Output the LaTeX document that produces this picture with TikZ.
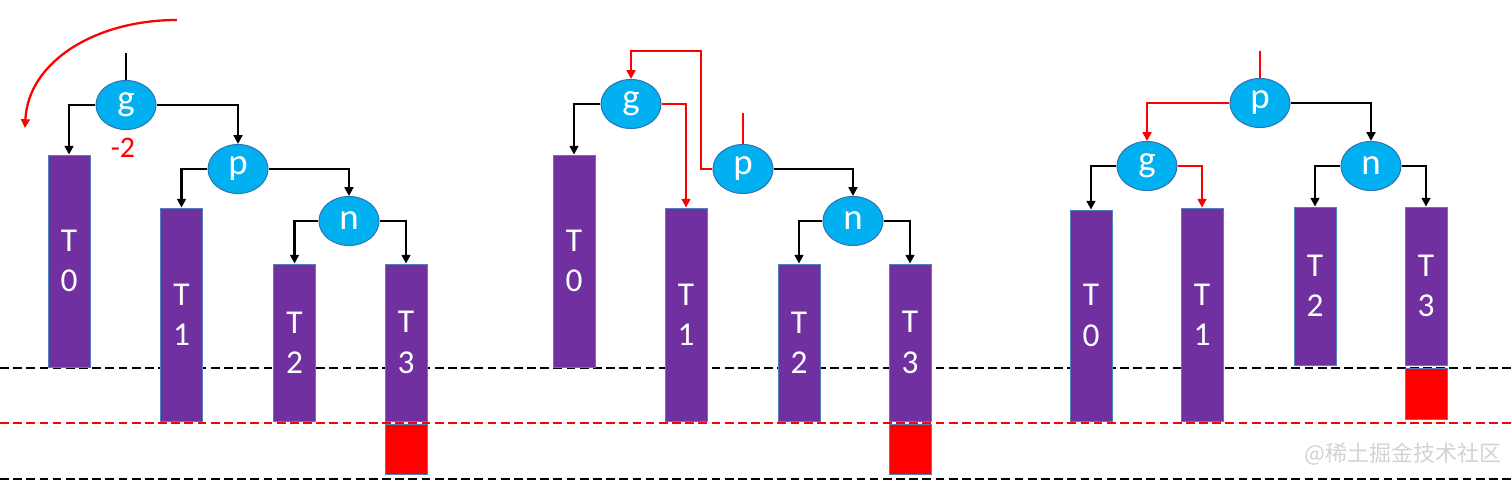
\documentclass[tikz,border=0pt]{standalone}
\usepackage{fontspec}
\setmainfont{Carlito}
\newfontfamily\cjkfont{Noto Sans CJK SC}
\usepackage{tikz}
\usetikzlibrary{arrows.meta,positioning,shapes.geometric}
\definecolor{treepurple}{HTML}{7030A0}
\definecolor{barline}{HTML}{4F81BD}
\definecolor{nodeblue}{HTML}{00B0F0}
\definecolor{nodeline}{HTML}{2E75B6}
\definecolor{hot}{HTML}{FF0000}
\definecolor{wmgray}{HTML}{D2D2D2}

\begin{document}
\begin{tikzpicture}[x=0.02cm,y=-0.02cm,
  tnode/.style={ellipse,draw=nodeline,line width=0.6pt,fill=nodeblue,text=white,minimum width=1.2cm,minimum height=0.98cm,inner sep=0pt,font=\fontsize{21}{21}\selectfont},
  bar/.style={draw=barline,line width=0.5pt,fill=treepurple,text=white,minimum width=0.84cm,align=center,inner sep=0pt,font=\fontsize{19}{23}\selectfont},
  extra/.style={draw=barline,line width=0.5pt,fill=hot,minimum width=0.84cm,minimum height=1cm,inner sep=0pt},
  edgearrow/.style={-{Triangle[width=5pt,length=5pt]},line width=1.3pt},
  hotarrow/.style={edgearrow,color=hot},
  cutline/.style={line width=1.3pt,dash pattern=on 5pt off 2.5pt}]
  \useasboundingbox (0,0) rectangle (1512,483);
  \draw[cutline] (0,368) -- (1512,368);
  \draw[cutline,color=hot] (0,423) -- (1512,423);
  \draw[cutline] (0,479) -- (1512,479);
  % before rotation
  \node[bar,minimum height=4.24cm] (ta0) at (69,261) {T\\0};
  \node[bar,minimum height=4.26cm] (ta1) at (181.5,314.5) {T\\1};
  \node[bar,minimum height=3.14cm] (ta2) at (294.5,342.5) {T\\2};
  \node[bar,minimum height=3.14cm] (ta3) at (406,342.5) {T\\3};
  \node[extra] (xa) at (406,449) {};
  \node[tnode] (ga) at (126,105) {g};
  \node[tnode] (pa) at (238,169) {p};
  \node[tnode] (na) at (349,221) {n};
  \node[text=hot,font=\fontsize{17}{17}\selectfont] (bfa) at (123,148) {-2};
  \coordinate (sa) at (126,53);
  \draw[line width=1.3pt] (sa) -- (ga.north);
  \draw[edgearrow] (ga.west) -| (ta0.north);
  \draw[edgearrow] (ga.east) -| (pa.north);
  \draw[edgearrow] (pa.west) -| (ta1.north);
  \draw[edgearrow] (pa.east) -| (na.north);
  \draw[edgearrow] (na.west) -| (ta2.north);
  \draw[edgearrow] (na.east) -| (ta3.north);
  \coordinate (arcs) at (177,20);
  \coordinate (arce) at (25,128);
  \draw[hotarrow] (arcs) .. controls (95,20) and (28,62) .. (arce);
  % rotating
  \node[bar,minimum height=4.24cm] (tb0) at (574,261) {T\\0};
  \node[bar,minimum height=4.26cm] (tb1) at (686,314.5) {T\\1};
  \node[bar,minimum height=3.14cm] (tb2) at (799,342.5) {T\\2};
  \node[bar,minimum height=3.14cm] (tb3) at (910,342.5) {T\\3};
  \node[extra] (xb) at (910,449) {};
  \node[tnode] (gb) at (631,104) {g};
  \node[tnode] (pb) at (743,169) {p};
  \node[tnode] (nb) at (853,221) {n};
  \coordinate (sb) at (743,113);
  \coordinate (rb) at (701,51);
  \draw[line width=1.3pt,color=hot] (sb) -- (pb.north);
  \draw[edgearrow] (gb.west) -| (tb0.north);
  \draw[hotarrow] (gb.east) -| (tb1.north);
  \draw[hotarrow] (pb.west) -| (rb) -| (gb.north);
  \draw[edgearrow] (pb.east) -| (nb.north);
  \draw[edgearrow] (nb.west) -| (tb2.north);
  \draw[edgearrow] (nb.east) -| (tb3.north);
  % after rotation
  \node[bar,minimum height=4.22cm] (tc0) at (1091,315.5) {T\\0};
  \node[bar,minimum height=4.26cm] (tc1) at (1202,314.5) {T\\1};
  \node[bar,minimum height=3.16cm] (tc2) at (1315,286) {T\\2};
  \node[bar,minimum height=3.16cm] (tc3) at (1426,286) {T\\3};
  \node[extra,minimum height=1.02cm] (xc) at (1426,393.5) {};
  \node[tnode] (pc) at (1260,103) {p};
  \node[tnode] (gc) at (1147,166) {g};
  \node[tnode] (nc) at (1371,166) {n};
  \coordinate (sc) at (1260,51);
  \draw[line width=1.3pt,color=hot] (sc) -- (pc.north);
  \draw[hotarrow] (pc.west) -| (gc.north);
  \draw[edgearrow] (pc.east) -| (nc.north);
  \draw[edgearrow] (gc.west) -| (tc0.north);
  \draw[hotarrow] (gc.east) -| (tc1.north);
  \draw[edgearrow] (nc.west) -| (tc2.north);
  \draw[edgearrow] (nc.east) -| (tc3.north);
  \node[text=wmgray,font=\cjkfont\fontsize{12.5}{12.5}\selectfont] (wm) at (1403,454) {@稀土掘金技术社区};
\end{tikzpicture}
\end{document}
